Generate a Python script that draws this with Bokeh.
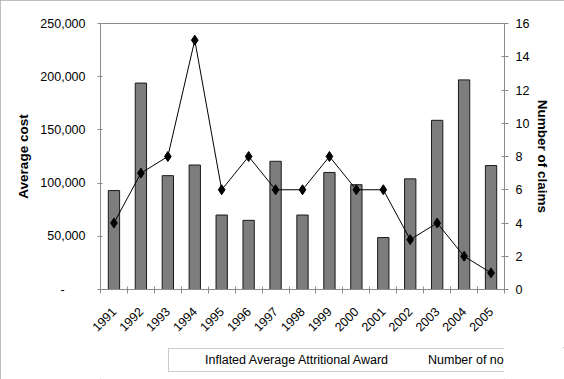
from bokeh.plotting import figure
from bokeh.models import (Range1d, LinearAxis, FixedTicker, NumeralTickFormatter,
                          Legend, LegendItem, ColumnDataSource)
from bokeh.layouts import column
from bokeh.embed import file_html
from bokeh.resources import INLINE
import math

years = [1991, 1992, 1993, 1994, 1995, 1996, 1997, 1998, 1999, 2000, 2001, 2002, 2003, 2004, 2005]
avg_award = [93000, 194000, 107000, 117000, 70000, 65000, 120500, 70000, 110000, 98500, 48800, 104000, 159000, 197000, 116500]
settlements = [4, 7, 8, 15, 6, 8, 6, 6, 8, 6, 6, 3, 4, 2, 1]
left_ticks = [0, 50000, 100000, 150000, 200000, 250000]
right_ticks = [0, 2, 4, 6, 8, 10, 12, 14, 16]
series_names = ["Inflated Average Attritional Award", "Number of non-nil settlements"]

FONT = "Liberation Sans"
BAR_FILL = "#7d7d7d"
BAR_LINE = "#1a1a1a"

p = figure(frame_width=404, frame_height=266, output_backend="svg", toolbar_location=None,
           x_range=Range1d(years[0] - 0.5, years[-1] + 0.5), y_range=Range1d(0, 250000),
           min_border_left=100, min_border_right=60, min_border_top=23, min_border_bottom=58)
p.extra_y_ranges = {"right": Range1d(0, 16)}
p.grid.visible = False
p.outline_line_color = "#8c8c8c"
p.background_fill_color = "white"
p.border_fill_color = "white"

p.vbar(x=years, top=avg_award, width=0.42, fill_color=BAR_FILL, line_color=BAR_LINE, line_width=1)
p.line(x=years, y=settlements, y_range_name="right", line_color="black", line_width=1)
p.scatter(x=years, y=settlements, y_range_name="right", marker="diamond", size=10,
          fill_color="black", line_color="black")

# x axis
xa = p.xaxis[0]
xa.ticker = FixedTicker(ticks=years, minor_ticks=[y - 0.5 for y in years] + [years[-1] + 0.5])
xa.formatter = NumeralTickFormatter(format="0")
xa.major_tick_line_color = None
xa.minor_tick_line_color = "#8c8c8c"
xa.minor_tick_in = 3
xa.minor_tick_out = 4
xa.axis_line_color = "#8c8c8c"
xa.major_label_orientation = math.pi / 4
xa.major_label_text_font = FONT
xa.major_label_text_font_size = "12.5px"
xa.major_label_text_color = "black"
xa.major_label_standoff = 14

# left axis
ya = p.yaxis[0]
ya.ticker = FixedTicker(ticks=left_ticks, minor_ticks=[])
ya.formatter = NumeralTickFormatter(format="0,0")
ya.major_label_overrides = {0: "-\u00a0\u00a0\u00a0\u00a0\u00a0\u00a0"}
ya.axis_line_color = "#8c8c8c"
ya.major_tick_line_color = "#8c8c8c"
ya.major_tick_in = 2
ya.major_tick_out = 3
ya.minor_tick_line_color = None
ya.major_label_text_font = FONT
ya.major_label_text_font_size = "12.5px"
ya.major_label_text_color = "black"
ya.major_label_standoff = 12
ya.axis_label = "Average cost"
ya.axis_label_text_font = FONT
ya.axis_label_text_font_style = "bold"
ya.axis_label_text_font_size = "13.5px"
ya.axis_label_text_color = "black"
ya.axis_label_standoff = 6

# right axis
ra = LinearAxis(y_range_name="right", ticker=FixedTicker(ticks=right_ticks, minor_ticks=[]))
ra.axis_line_color = "#8c8c8c"
ra.major_tick_line_color = "#8c8c8c"
ra.major_tick_in = 3
ra.major_tick_out = 4
ra.minor_tick_line_color = None
ra.major_label_text_font = FONT
ra.major_label_text_font_size = "12.5px"
ra.major_label_text_color = "black"
ra.major_label_standoff = 7
ra.axis_label = "Number of claims"
ra.axis_label_text_font = FONT
ra.axis_label_text_font_style = "bold"
ra.axis_label_text_font_size = "13.5px"
ra.axis_label_text_color = "black"
ra.axis_label_standoff = 3
p.add_layout(ra, "right")

# legend strip: a separate small figure holding only the legend
lf = figure(width=564, height=32, output_backend="svg", toolbar_location=None,
            x_range=Range1d(0, 1), y_range=Range1d(0, 1),
            x_axis_location=None, y_axis_location=None, min_border=0)
lf.grid.visible = False
lf.outline_line_color = None
lf.background_fill_color = "white"
lf.border_fill_color = "white"
empty_bar = ColumnDataSource(data=dict(x=[], top=[]))
empty_line = ColumnDataSource(data=dict(x=[], y=[]))
lb = lf.vbar(x="x", top="top", width=0.42, source=empty_bar,
             fill_color=BAR_FILL, line_color=BAR_LINE, line_width=1)
ll = lf.line(x="x", y="y", source=empty_line, line_color="black", line_width=1)
lm = lf.scatter(x="x", y="y", source=empty_line, marker="diamond", size=10,
                fill_color="black", line_color="black")

legend = Legend(items=[
    LegendItem(label=series_names[0], renderers=[lb]),
    LegendItem(label=series_names[1], renderers=[ll, lm]),
], orientation="horizontal", location=(68, 7))
legend.label_text_font = FONT
legend.label_text_font_size = "12.5px"
legend.label_text_color = "black"
legend.glyph_width = 27
legend.glyph_height = 8
legend.label_standoff = 5
legend.spacing = 8
legend.padding = 4
legend.margin = 0
legend.border_line_color = "#9a9a9a"
legend.border_line_width = 1
legend.background_fill_alpha = 1
lf.add_layout(legend, "center")

layout = column(p, lf, spacing=0)
layout.styles = {"outline": "1px solid #a8a8a8", "outline-offset": "-1px"}

open("out.html", "w").write(file_html(layout, INLINE))
